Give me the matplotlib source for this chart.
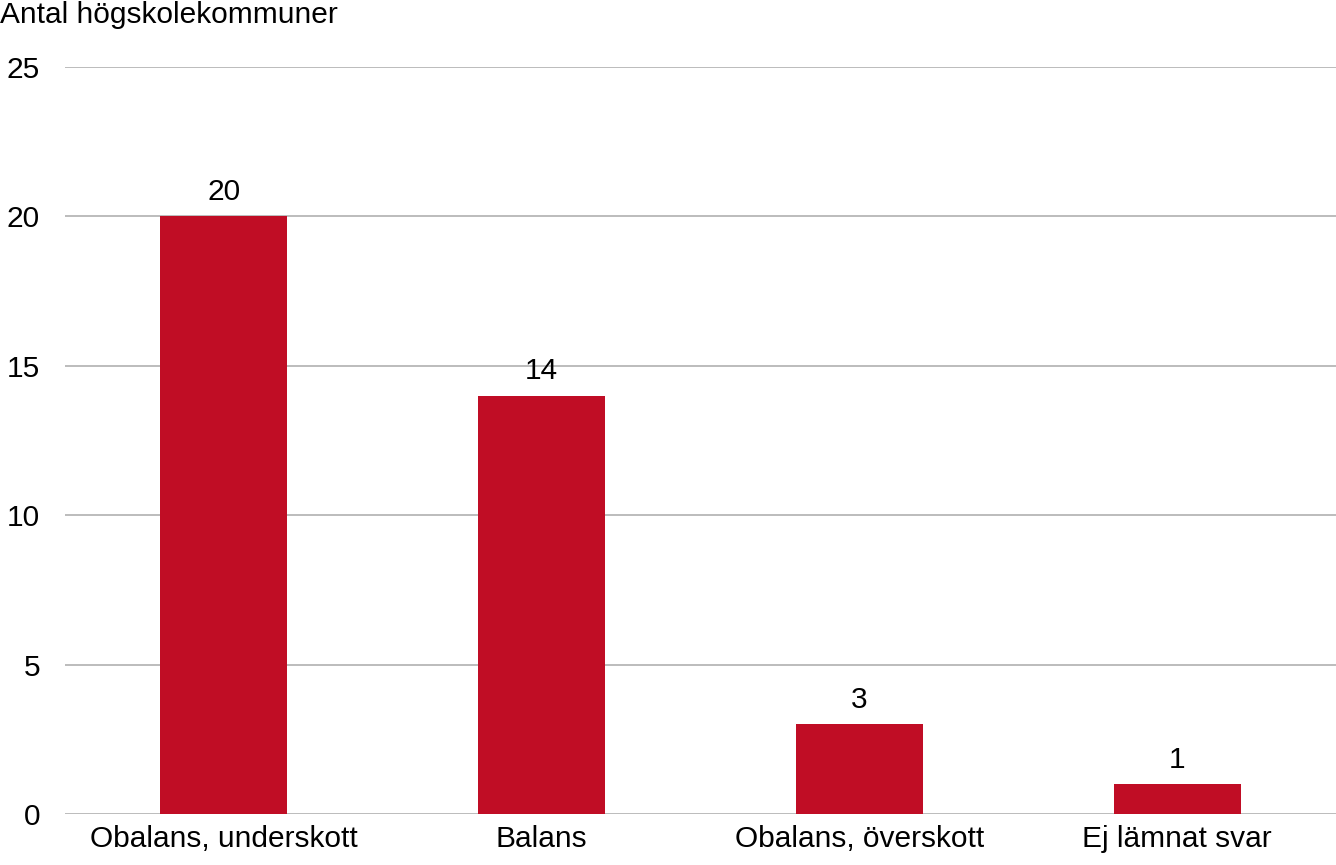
import matplotlib
matplotlib.use("Agg")
import matplotlib.pyplot as plt

categories = ["Obalans, underskott", "Balans", "Obalans, överskott", "Ej lämnat svar"]
values = [20, 14, 3, 1]
yticks = [0, 5, 10, 15, 20, 25]

plt.rcParams['font.family'] = ['Liberation Sans', 'DejaVu Sans']
fs = 21.5
fig = plt.figure(figsize=(13.36, 8.65), dpi=100)
ax = fig.add_axes([65/1336, 1-814/865, 1-65/1336, (814-67)/865])
x = range(len(categories))
ax.bar(x, values, width=0.4, color="#C00D25", zorder=3)
for xi, v in zip(x, values):
    ax.text(xi, v + 0.35, str(v), ha="center", va="bottom", fontsize=fs)
ax.set_xlim(-0.5, 3.5)
ax.set_ylim(0, 25)
ax.set_yticks(yticks)
ax.set_xticks(list(x))
ax.set_xticklabels(categories, fontsize=fs)
ax.tick_params(axis='y', labelsize=fs, length=0, pad=18)
ax.tick_params(axis='x', length=0, pad=8)
ax.yaxis.grid(True, color="#b0b0b0", linewidth=1.2, zorder=0)
for s in ax.spines.values():
    s.set_visible(False)
fig.text(0.0, 1-15/865, "Antal högskolekommuner", fontsize=fs, ha="left", va="center")
fig.savefig("out.png", dpi=100)
